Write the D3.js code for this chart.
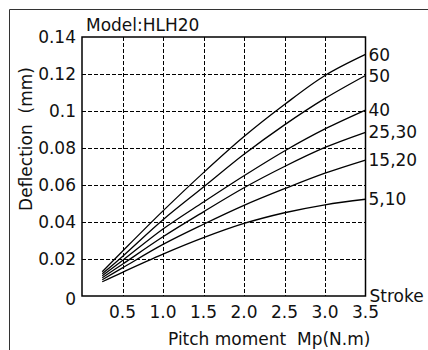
<!DOCTYPE html>
<html>
<head>
<meta charset="utf-8">
<script src="https://cdn.jsdelivr.net/npm/d3@7"></script>
<style>
  body { margin: 0; background: #fff; }
  text { font-family: "DejaVu Sans", Verdana, sans-serif; font-size: 17px; fill: #111; }
</style>
</head>
<body>
<figure id="chart" style="margin:0"></figure>
<script>
// pitch moment Mp (N.m) sampled along each curve
const moments = [0.25, 0.5, 1.0, 1.5, 2.0, 2.5, 3.0, 3.5];
// stroke groups, top curve first
const strokes = ["60", "50", "40", "25,30", "15,20", "5,10"];
// deflection (mm) for each stroke group
const defl60 = [0.0131, 0.0242, 0.0460, 0.0667, 0.0862, 0.1035, 0.1192, 0.1306];
const defl50 = [0.0120, 0.0214, 0.0412, 0.0589, 0.0766, 0.0925, 0.1068, 0.1192];
const defl40 = [0.0110, 0.0192, 0.0362, 0.0508, 0.0650, 0.0784, 0.0903, 0.1005];
const defl25 = [0.0099, 0.0172, 0.0320, 0.0455, 0.0585, 0.0700, 0.0803, 0.0885];
const defl15 = [0.0088, 0.0152, 0.0279, 0.0388, 0.0490, 0.0580, 0.0664, 0.0735];
const defl5  = [0.0077, 0.0128, 0.0226, 0.0315, 0.0392, 0.0450, 0.0493, 0.0523];
const series = [defl60, defl50, defl40, defl25, defl15, defl5];
const xTicks = [0.5, 1.0, 1.5, 2.0, 2.5, 3.0, 3.5];
const yTicks = [0, 0.02, 0.04, 0.06, 0.08, 0.1, 0.12, 0.14];

const width = 428, height = 350;
const plotLeft = 82, plotRight = 365.5, plotTop = 37, plotBottom = 296;

const svg = d3.select("figure#chart")
  .append("svg")
  .attr("width", width)
  .attr("height", height);

// outer frame (only top and left edges show)
svg.append("path")
  .attr("d", "M9.5,350 V9.5 H428")
  .attr("fill", "none")
  .attr("stroke", "#333")
  .attr("stroke-width", 1);

const x = d3.scaleLinear().domain([0, 3.5]).range([plotLeft, plotRight]);
const y = d3.scaleLinear().domain([0, 0.14]).range([plotBottom, plotTop]);

// dashed grid
svg.append("g")
  .selectAll("line")
  .data(xTicks.slice(0, -1))
  .enter()
  .append("line")
  .attr("x1", d => Math.round(x(d)) + 0.5)
  .attr("x2", d => Math.round(x(d)) + 0.5)
  .attr("y1", plotTop)
  .attr("y2", plotBottom)
  .attr("stroke", "#000")
  .attr("stroke-dasharray", "4,2");

svg.append("g")
  .selectAll("line")
  .data(yTicks.slice(1, -1))
  .enter()
  .append("line")
  .attr("x1", plotLeft)
  .attr("x2", plotRight)
  .attr("y1", d => Math.round(y(d)) + 0.5)
  .attr("y2", d => Math.round(y(d)) + 0.5)
  .attr("stroke", "#000")
  .attr("stroke-dasharray", "4,2");

// plot frame
svg.append("rect")
  .attr("x", plotLeft)
  .attr("y", plotTop)
  .attr("width", plotRight - plotLeft)
  .attr("height", plotBottom - plotTop)
  .attr("fill", "none")
  .attr("stroke", "#000")
  .attr("stroke-width", 1.5);

// tick labels
svg.append("g")
  .selectAll("text")
  .data(yTicks)
  .enter()
  .append("text")
  .attr("x", plotLeft - 6)
  .attr("y", d => y(d) + (d === 0 ? 3 : 0))
  .attr("dy", "0.36em")
  .attr("text-anchor", "end")
  .text(d => d === 0 ? "0" : d3.format(".2~f")(d));

svg.append("g")
  .selectAll("text")
  .data(xTicks)
  .enter()
  .append("text")
  .attr("x", d => x(d))
  .attr("y", 318)
  .attr("text-anchor", "middle")
  .text(d => d3.format(".1f")(d));

// curves
const line = d3.line()
  .x((d, i) => x(moments[i]))
  .y(d => y(d))
  .curve(d3.curveCatmullRom.alpha(0.5));

svg.append("g")
  .selectAll("path")
  .data(series)
  .enter()
  .append("path")
  .attr("d", d => line(d))
  .attr("fill", "none")
  .attr("stroke", "#000")
  .attr("stroke-width", 1.3);

// stroke labels at the curve ends
svg.append("g")
  .selectAll("text")
  .data(series)
  .enter()
  .append("text")
  .attr("x", plotRight + 3)
  .attr("y", d => y(d[d.length - 1]))
  .attr("dy", "0.36em")
  .text((d, i) => strokes[i]);

svg.append("text")
  .attr("x", plotRight + 4)
  .attr("y", y(0))
  .attr("dy", "0.36em")
  .text("Stroke");

svg.append("text")
  .attr("x", 86)
  .attr("y", 31)
  .text("Model:HLH20");

svg.append("text")
  .attr("x", 168)
  .attr("y", 345)
  .style("white-space", "pre")
  .text("Pitch moment  Mp(N.m)");

svg.append("text")
  .attr("transform", "translate(32,139) rotate(-90)")
  .attr("text-anchor", "middle")
  .style("white-space", "pre")
  .text("Deflection  (mm)");
</script>
</body>
</html>
